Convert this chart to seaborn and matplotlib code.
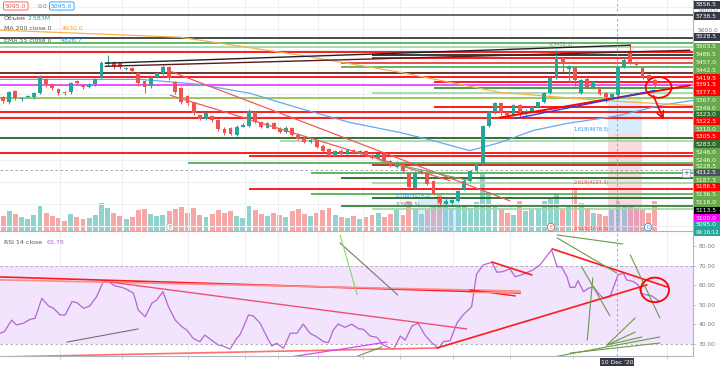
"""
plot.py - BTC-style price panel with volume + RSI sub-panel (TradingView look).
"""
import matplotlib
matplotlib.use("Agg")

import matplotlib.pyplot as plt
from matplotlib.patches import Ellipse, Rectangle
import seaborn as sns
import numpy as np
import pandas as pd

W, H = 720, 366

# ---- candles (price units) ----
opens = [4972, 4927, 5027, 4954, 4972, 4972, 5009, 5137, 5091, 5046,
         5018, 5018, 5119, 5082, 5064, 5091, 5155, 5274, 5293, 5284,
         5229, 5238, 5192, 5119, 5073, 5155, 5192, 5247, 5110, 5055,
         4982, 4927, 4808, 4780, 4799, 4771, 4689, 4698, 4634, 4707,
         4716, 4835, 4744, 4698, 4735, 4689, 4661, 4698, 4634, 4606,
         4570, 4588, 4533, 4506, 4442, 4487, 4460, 4497, 4469, 4487,
         4451, 4414, 4460, 4396, 4341, 4378, 4286, 4149, 4286, 4277,
         4213, 4057, 4003, 4010, 4025, 4140, 4213, 4300, 4369, 4716,
         4835, 4918, 4840, 4810, 4899, 4826, 4853, 4881, 4927, 5009,
         5146, 5330, 5230, 5250, 5009, 5137, 5064, 5055, 5009, 4975,
         4991, 5247, 5384, 5293, 5238, 5174, 5128]
closes = [4936, 5018, 4963, 4963, 4982, 5009, 5155, 5091, 5055, 5009,
          5009, 5100, 5100, 5064, 5091, 5137, 5284, 5293, 5247, 5247,
          5238, 5210, 5100, 5064, 5155, 5192, 5247, 5146, 5018, 4927,
          4918, 4826, 4780, 4826, 4762, 4689, 4652, 4643, 4707, 4725,
          4853, 4744, 4707, 4735, 4689, 4661, 4698, 4634, 4597, 4570,
          4588, 4524, 4487, 4442, 4487, 4460, 4497, 4469, 4487, 4451,
          4423, 4460, 4396, 4350, 4378, 4304, 4158, 4286, 4304, 4185,
          4094, 4012, 4030, 4035, 4121, 4213, 4304, 4369, 4716, 4835,
          4918, 4826, 4808, 4899, 4835, 4853, 4881, 4927, 5009, 5146,
          5338, 5290, 5255, 5130, 5128, 5064, 5110, 5000, 4972, 5000,
          5247, 5311, 5293, 5265, 5155, 5128, 5082]
highs = [4985, 5030, 5040, 4975, 4995, 5020, 5175, 5150, 5100, 5060,
         5030, 5115, 5135, 5095, 5100, 5145, 5300, 5355, 5305, 5295,
         5250, 5250, 5200, 5130, 5165, 5200, 5265, 5255, 5120, 5065,
         4990, 4935, 4815, 4840, 4810, 4780, 4700, 4705, 4720, 4735,
         4865, 4845, 4755, 4745, 4745, 4700, 4710, 4705, 4645, 4615,
         4600, 4595, 4545, 4515, 4495, 4500, 4505, 4505, 4495, 4495,
         4460, 4470, 4470, 4405, 4390, 4385, 4295, 4300, 4320, 4285,
         4220, 4065, 4045, 4050, 4130, 4225, 4315, 4380, 4725, 4850,
         4930, 4925, 4850, 4910, 4910, 4865, 4890, 4935, 5020, 5155,
         5400, 5345, 5270, 5260, 5140, 5160, 5120, 5065, 5020, 5010,
         5260, 5330, 5458, 5300, 5245, 5185, 5140]
lows = [4925, 4915, 4950, 4940, 4965, 4960, 5000, 5070, 5040, 4990,
        4995, 5005, 5090, 5050, 5055, 5080, 5145, 5260, 5230, 5235,
        5220, 5195, 5080, 5010, 5060, 5145, 5180, 5135, 5000, 4910,
        4905, 4810, 4770, 4770, 4750, 4670, 4630, 4630, 4620, 4700,
        4705, 4735, 4695, 4690, 4680, 4650, 4650, 4620, 4585, 4560,
        4560, 4510, 4475, 4430, 4430, 4450, 4450, 4460, 4460, 4440,
        4410, 4405, 4385, 4340, 4330, 4290, 4145, 4140, 4275, 4170,
        4080, 3995, 3995, 3998, 4015, 4130, 4205, 4290, 4360, 4705,
        4825, 4815, 4795, 4800, 4790, 4815, 4845, 4875, 4920, 5000,
        5140, 5200, 5110, 5080, 5000, 5050, 5050, 4990, 4930, 4965,
        4980, 5240, 5280, 5255, 5140, 5100, 5070]
volumes = [1.3, 1.7, 1.5, 1.2, 1.0, 1.4, 2.2, 1.6, 1.3, 1.1, 0.9, 1.5, 1.2, 1.0, 1.1, 1.4, 2.4,
           2.0, 1.6, 1.3, 1.0, 1.2, 1.8, 1.9, 1.5, 1.3, 1.4, 1.7, 1.9, 2.1, 1.6, 2.0, 1.4,
           1.2, 1.5, 1.8, 1.6, 1.7, 1.3, 1.1, 2.2,
           1.8, 1.5, 1.3, 1.6, 1.4, 1.2, 1.7, 1.9, 1.5, 1.3, 1.6, 1.8, 2.0, 1.4, 1.2, 1.1,
           1.3, 1.0, 1.2, 1.4, 1.6, 1.2, 1.5, 1.8, 1.4,
           2.6, 2.0, 1.5, 1.8, 2.2, 3.2, 2.4, 1.9, 2.1, 2.3, 2.0, 2.5,
           4.9, 3.4, 2.2,
           1.9, 1.6, 1.4, 2.6, 1.7, 1.8, 2.0, 2.6, 2.8, 3.3, 1.8, 2.1, 3.7, 2.4, 2.0, 1.6,
           1.5, 1.3, 1.8,
           2.6, 2.3, 2.2, 2.0, 1.8, 1.6, 2.58]

# ---- moving averages (sparse points along the drawn curves) ----
ema_x = [-0.5, 22.3, 32.0, 40.2, 48.3, 56.4, 64.6, 69.9, 75.9, 80.8, 86.2, 91.7, 97.1, 100.3, 106.8, 112.2]
ema_val = [5137, 5137, 5091, 5009, 4872, 4744, 4652, 4579, 4487, 4561, 4671, 4735, 4780, 4808, 4899, 4945]
ma_x = [-0.5, 28.8, 48.3, 64.6, 80.8, 97.1, 112.2]
ma_val = [5585, 5521, 5357, 5201, 5018, 4945, 4899]

# ---- RSI 14 ----
rsi_x = [-0.5, 0.2, 1.4, 2.2, 3.3, 4.4, 5.2, 6.3, 7.4, 8.2, 9.3, 10.1, 11.2, 12.0, 13.1,
         14.1, 15.2, 16.3, 17.1, 18.2, 19.3, 20.1, 21.2, 22.0, 23.1, 24.2, 25.0, 26.0,
         26.9, 28.0, 29.1, 29.9, 30.9, 32.0, 32.8, 33.9, 35.0, 35.8, 36.9, 38.0,
         38.5, 39.1, 39.9, 40.7, 41.8, 42.9, 43.7, 44.5, 45.6, 46.7, 47.8, 48.8, 49.9,
         51.0, 52.1, 52.9, 53.7, 54.5, 55.6, 56.7, 57.8, 58.6, 59.7, 60.8, 61.8, 63.5,
         64.6, 65.4, 66.5, 67.5, 68.6, 69.7, 70.8, 71.6, 72.7, 73.8, 74.8, 76.2,
         77.0, 78.1, 79.5, 80.3, 81.3, 82.4, 83.3, 84.6, 86.2, 87.3, 89.2, 90.1, 90.8,
         91.7, 92.2, 93.0, 93.5, 94.4, 95.2, 96.0, 96.8, 97.6, 98.7, 100.0, 100.9,
         101.4, 102.5, 103.3, 103.8, 104.7, 105.5, 106.8]
rsi_val = [35.5, 36.3, 42.2, 39.7, 40.6, 42.6, 43.1, 53.3, 49.4, 48.2, 44.8, 44.8, 51.6,
           51.1, 48.2, 49.4, 54.1, 61.8, 61.8, 59.6, 58.9, 57.9, 55.9, 47.3, 43.9, 50.8,
           52.4, 56.7, 49.0, 42.2, 38.8, 37.1, 32.9, 31.2, 34.6, 32.0, 29.5, 29.0, 27.4, 32.9,
           34.6, 38.8, 44.8, 44.3, 40.6, 33.7, 29.0, 30.4, 27.8, 35.5, 35.5, 40.2, 35.5,
           33.7, 31.2, 30.7, 37.1, 40.2, 38.5, 40.1, 37.8, 37.5, 34.1, 33.4, 29.5, 27.3,
           34.1, 32.0, 39.2, 40.6, 34.6, 30.7, 27.8, 31.2, 31.7, 40.6, 44.8, 49.0,
           65.7, 70.3, 71.7, 66.6, 66.9, 68.3, 64.3, 65.6, 67.8, 70.3, 78.0, 69.4, 69.4,
           64.3, 58.9, 58.9, 62.3, 56.7, 58.4, 59.2, 55.9, 53.3, 54.1, 65.2, 66.1,
           62.7, 61.8, 60.1, 55.9, 55.0, 54.5, 51.6]

# ---- horizontal levels drawn on the chart: price, start candle, colour ----
level_price = [5723, 5512, 5467, 5430, 5384, 5357, 5329, 5284, 5247, 5192, 5155, 5110,
               5082, 5055, 5009, 4963, 4881, 4835, 4789, 4606, 4579, 4469, 4442, 4378,
               4359, 4286, 4240, 4195, 4140, 4094, 4057, 3984, 3957]
level_start = [-0.5, -0.5, -0.5, -0.5, -0.5, 60, 60, 55, 55, -0.5, -0.5, 70,
               -0.5, 70, 60, -0.5, 70, -0.5, -0.5, -0.5, 45, -0.5, 40, 30,
               60, 50, 55, 60, 40, 50, 60, 55, 60]
level_color = ["#555555", "#333333", "#4caf50", "#a5d6a7", "#ff0000", "#222222", "#ff0000",
               "#e53935", "#4caf50", "#5d1a1a", "#ff0000", "#ff0000", "#e040fb", "#388e3c",
               "#a5d6a7", "#8bc34a", "#ff0000", "#ff0000", "#ff0000", "#1b5e20", "#a5d6a7",
               "#ff0000", "#ff0000", "#4caf50", "#b71c1c", "#4caf50", "#1b5e20", "#a5d6a7",
               "#ff0000", "#4caf50", "#1b5e20", "#2e7d32", "#a5d6a7"]

# trend lines on the price panel: x0, p0, x1, p1, colour, width
price_lines = [(16.6, 5284, 102.0, 5448, "#222222", 1.0),
               (16.6, 5256, 111.7, 5402, "#5d1a1a", 1.0),
               (26.8, 5219, 82.4, 4030, "#f05a5a", 0.9),
               (27.2, 4991, 72.7, 4213, "#f05a5a", 0.9),
               (80.8, 4789, 111.7, 5082, "#ff0000", 1.4),
               (83.3, 4780, 106.0, 5036, "#2b3de0", 1.0),
               (61.3, 4396, 75.9, 4213, "#8a9a5b", 0.8)]

# trend lines on the RSI panel
rsi_lines = [(-0.5, 64.2, 84.1, 56.0, "#ff1a1a", 1.2),
             (-0.5, 62.7, 84.1, 57.0, "#ff8a8a", 1.2),
             (17.4, 61.6, 75.4, 37.7, "#f0506e", 1.0),
             (75.9, 57.6, 83.3, 54.5, "#ff1a1a", 1.0),
             (75.9, 56.5, 84.1, 56.5, "#ff8a8a", 1.0),
             (-0.5, 23.4, 70.6, 28.0, "#ff7070", 1.2),
             (70.6, 28.0, 104.7, 60.1, "#ff1a1a", 1.2),
             (89.3, 78.5, 108.0, 59.1, "#ff1a1a", 1.2),
             (79.5, 71.8, 86.0, 65.2, "#ff1a1a", 1.2),
             (10.4, 31.0, 22.0, 37.7, "#707a6a", 0.8),
             (54.8, 81.5, 64.2, 55.0, "#707a6a", 0.8),
             (54.8, 85.6, 57.6, 55.0, "#7ee05a", 0.8),
             (43.4, 21.8, 62.4, 31.0, "#e040fb", 0.9),
             (55.9, 21.8, 61.6, 28.5, "#6a9a4a", 0.8),
             (90.1, 85.6, 100.8, 81.0, "#6a9a4a", 0.8),
             (90.1, 84.1, 99.8, 66.2, "#6a9a4a", 0.8),
             (94.1, 69.3, 98.7, 44.3, "#6a9a4a", 0.8),
             (102.0, 75.4, 106.8, 43.3, "#6a9a4a", 0.8),
             (95.9, 63.7, 95.0, 32.0, "#6a9a4a", 0.8),
             (98.2, 29.5, 102.8, 43.3, "#6a9a4a", 0.8),
             (98.2, 29.5, 102.8, 36.1, "#6a9a4a", 0.8),
             (98.2, 29.5, 103.9, 33.6, "#6a9a4a", 0.8),
             (92.2, 25.4, 106.8, 30.5, "#6a9a4a", 0.8),
             (86.8, 21.8, 106.8, 33.6, "#6a9a4a", 0.8)]

# fib zones: x0, x1, p0, p1, colour
fib_zones = [(98.3, 103.9, 4643, 4963, "#90caf9"),
             (98.3, 103.9, 4003, 4643, "#ef9a9a"),
             (98.3, 103.9, 3755, 4003, "#ce93d8"),
             (67.5, 74.3, 3755, 4057, "#90caf9")]
fib_labels = [(88.8, 5458, "0(5458.0)", "#787b86"),
              (92.8, 4678.5, "1.618(4678.5)", "#2196f3"),
              (92.8, 4197.5, "2.618(4197.5)", "#ef5350"),
              (63.8, 4074.5, "0.786(4074.5)", "#2196f3"),
              (63.8, 3994.5, "1(3994.5)", "#787b86"),
              (92.8, 3780, "3.618(3716.5)", "#ef5350")]

# right price-scale labels: text, box colour, pixel row
scale_labels = [("5856.5", "#363a45", 5), ("5800.0", None, 10), ("5738.5", "#363a45", 16),
                ("5600.0", None, 31), ("5528.5", "#363a45", 37), ("5503.5", "#67a84b", 47),
                ("5486.5", "#67a84b", 55), ("5457.0", "#67a84b", 63), ("5442.5", "#67a84b", 71),
                ("5419.5", "#ff0000", 78), ("5391.5", "#ff0000", 85), ("5377.5", "#ff0000", 92),
                ("5367.0", "#67a84b", 100), ("5349.0", "#67a84b", 108), ("5323.0", "#2e6b2e", 115),
                ("5322.5", "#ff0000", 122), ("5310.0", "#67a84b", 129), ("5305.5", "#ff0000", 136),
                ("5283.0", "#2e6b2e", 144), ("5246.0", "#67a84b", 152), ("5246.0", "#67a84b", 160),
                ("5228.5", "#67a84b", 167), ("4312.5", "#4c525e", 173), ("5187.5", "#67a84b", 180),
                ("5186.5", "#ff0000", 187), ("5136.5", "#67a84b", 195), ("5116.0", "#67a84b", 203),
                ("5113.5", "#000000", 211), ("5100.0", "#ff00ff", 218), ("5095.0", "#26a69a", 225),
                ("09:16:12", "#26a69a", 232)]

grid_x = [9.3, 19.3, 30.1, 39.3, 44.7, 51.2, 58.5, 64.6, 73.2, 82.4, 92.7, 108.0]
crosshair_x = 99.8
crosshair_price = 4312.5

TEAL, RED = "#26a69a", "#ef5350"
XLIM = (-0.5, 112.2)


def fx(px):
    return px / W


def fy(py):
    return 1 - py / H


sns.set_theme(style="white")
plt.rcParams["font.family"] = ["DejaVu Sans"]

fig = plt.figure(figsize=(W / 100, H / 100), dpi=100)
fig.patch.set_facecolor("white")

ax_p = fig.add_axes([0, fy(231), fx(693), 231 / H])
ax_v = ax_p.twinx()
ax_r = fig.add_axes([0, fy(356), fx(693), 124 / H])

# ---------- volume ----------
idx = np.arange(len(closes))
up = np.array(closes) >= np.array(opens)
vol_colors = [TEAL if u else RED for u in up]
ax_v.bar(idx, volumes, width=0.8, color=vol_colors, alpha=0.5, linewidth=0)
ax_v.set_ylim(0, 20)
ax_v.set_xlim(*XLIM)
ax_v.axis("off")
ax_v.set_zorder(0)
ax_p.set_zorder(1)
ax_p.patch.set_visible(False)

# ---------- price panel ----------
ax_p.set_xlim(*XLIM)
ax_p.set_ylim(3755, 5860)
for gx in grid_x:
    ax_p.axvline(gx, color="#eef0f4", lw=0.8, zorder=0)
for gp in range(3800, 5900, 200):
    ax_p.axhline(gp, color="#eef0f4", lw=0.8, zorder=0)

for x0, x1, p0, p1, c in fib_zones:
    ax_p.add_patch(Rectangle((x0, p0), x1 - x0, p1 - p0, color=c, alpha=0.35, lw=0, zorder=0.5))

for p, s, c in zip(level_price, level_start, level_color):
    ax_p.hlines(p, s, XLIM[1], colors=c, lw=1.25, zorder=1)

o, c_ = np.array(opens), np.array(closes)
body = c_ - o
body = np.where(np.abs(body) < 8, np.where(body >= 0, 8, -8), body)
cand_colors = [TEAL if u else RED for u in up]
ax_p.vlines(idx, lows, highs, colors=cand_colors, lw=0.8, zorder=2)
ax_p.bar(idx, body, bottom=o, width=0.62, color=cand_colors, linewidth=0, zorder=2.5)

sns.lineplot(x=ema_x, y=ema_val, ax=ax_p, color="#64a8f0", lw=0.9, sort=False, estimator=None, zorder=1.5)
sns.lineplot(x=ma_x, y=ma_val, ax=ax_p, color="#f7b24a", lw=0.9, sort=False, estimator=None, zorder=1.5)

for x0, p0, x1, p1, c, lw in price_lines:
    ax_p.plot([x0, x1], [p0, p1], color=c, lw=lw, zorder=3)

for x, p, t, c in fib_labels:
    ax_p.text(x, p, t, fontsize=3.6, color=c, ha="left", va="center", zorder=4)

ax_p.add_patch(Ellipse((106.6, 5064), 4.2, 190, fill=False, ec="red", lw=1.3, zorder=5))
ax_p.annotate("", xy=(107.6, 4744), xytext=(105.6, 5010),
              arrowprops=dict(arrowstyle="->", color="red", lw=1.2), zorder=5)

ax_p.axvline(crosshair_x, color="#9598a1", lw=0.6, ls=(0, (3, 3)), zorder=4)
ax_p.axhline(crosshair_price, color="#9598a1", lw=0.6, ls=(0, (3, 3)), zorder=4)

for x, t, ec in [(27.2, "E", "#b2b5be"), (89.1, "E", "#ef5350"), (104.9, "D", "#2196f3")]:
    ax_p.text(x, 3790, t, fontsize=3.5, color="#787b86", ha="center", va="center", zorder=5,
              bbox=dict(boxstyle="circle,pad=0.25", fc="white", ec=ec, lw=0.6))

ax_p.set(xlabel=None, ylabel=None, xticks=[], yticks=[])
for side in ["top", "left"]:
    ax_p.spines[side].set_visible(False)
ax_p.spines["right"].set_color("#b2b5be")
ax_p.spines["bottom"].set_color("#b2b5be")
ax_p.spines["right"].set_linewidth(0.8)
ax_p.spines["bottom"].set_linewidth(0.8)

# ---------- RSI panel ----------
ax_r.set_xlim(*XLIM)
ax_r.set_ylim(23.9, 87.1)
for gx in grid_x:
    ax_r.axvline(gx, color="#eef0f4", lw=0.8, zorder=0)
ax_r.axhspan(30, 70, color="#f1e4fc", lw=0, zorder=0.2)
ax_r.axhline(70, color="#a7a3b0", lw=0.6, ls=(0, (3, 3)), zorder=0.5)
ax_r.axhline(30, color="#a7a3b0", lw=0.6, ls=(0, (3, 3)), zorder=0.5)

sns.lineplot(x=rsi_x, y=rsi_val, ax=ax_r, color="#b267d0", lw=0.9, sort=False, estimator=None, zorder=2)

for x0, v0, x1, v1, c, lw in rsi_lines:
    ax_r.plot([x0, x1], [v0, v1], color=c, lw=lw, zorder=3)
ax_r.add_patch(Ellipse((106.0, 57.6), 4.6, 12.5, fill=False, ec="red", lw=1.3, zorder=5))
ax_r.axvline(crosshair_x, color="#9598a1", lw=0.6, ls=(0, (3, 3)), zorder=4)

ax_r.yaxis.tick_right()
ax_r.set_yticks([30, 40, 50, 60, 70, 80])
ax_r.set_yticklabels([f"{v:.2f}" for v in [30, 40, 50, 60, 70, 80]])
ax_r.tick_params(axis="y", labelsize=4.3, labelcolor="#787b86", length=2, width=0.5,
                 color="#b2b5be", pad=2, right=True)
ax_r.set_xticks(grid_x)
ax_r.set_xticklabels([])
ax_r.tick_params(axis="x", length=2, width=0.5, color="#b2b5be", bottom=True)
ax_r.set(xlabel=None, ylabel=None)
for side in ["top", "left"]:
    ax_r.spines[side].set_visible(False)
for side in ["right", "bottom"]:
    ax_r.spines[side].set_color("#b2b5be")
    ax_r.spines[side].set_linewidth(0.8)

# ---------- right price scale labels ----------
for txt, bg, py in scale_labels:
    fs = 3.8 if len(txt) > 6 else 4.3
    if bg is None:
        fig.text(fx(698), fy(py), txt, fontsize=fs, color="#787b86", va="center", ha="left")
        continue
    fig.patches.append(Rectangle((fx(694), fy(py + 3.6)), fx(26), 7.2 / H,
                                 transform=fig.transFigure, color=bg, lw=0, zorder=3))
    fig.text(fx(696), fy(py), txt, fontsize=fs, color="white", va="center", ha="left", zorder=4)

fig.text(fx(686), fy(173), "+", fontsize=5, color="#4c525e", va="center", ha="center",
         bbox=dict(boxstyle="square,pad=0.1", fc="white", ec="#9598a1", lw=0.5))

# ---------- legend texts ----------
fig.text(fx(5), fy(6), "5095.0", fontsize=4.5, color="#ef5350", va="center",
         bbox=dict(boxstyle="round,pad=0.25", fc="white", ec="#ef5350", lw=0.6))
fig.text(fx(38), fy(6), "0.0", fontsize=4.5, color="#787b86", va="center")
fig.text(fx(51), fy(6), "5095.0", fontsize=4.5, color="#2196f3", va="center",
         bbox=dict(boxstyle="round,pad=0.25", fc="white", ec="#2196f3", lw=0.6))
fig.text(fx(4), fy(19), "Объем", fontsize=4.5, color="#555555", va="center")
fig.text(fx(28), fy(19), "2.583M", fontsize=4.5, color="#26a69a", va="center")
fig.text(fx(4), fy(29), "MA 200 close 0", fontsize=4.5, color="#555555", va="center")
fig.text(fx(62), fy(29), "4930.0", fontsize=4.5, color="#f5a623", va="center")
fig.text(fx(4), fy(40), "EMA 55 close 0", fontsize=4.5, color="#555555", va="center")
fig.text(fx(61), fy(40), "4826.7", fontsize=4.5, color="#2196f3", va="center")
fig.text(fx(4), fy(243), "RSI 14 close", fontsize=4.5, color="#555555", va="center")
fig.text(fx(47), fy(243), "63.78", fontsize=4.5, color="#b267d0", va="center")

fig.text(fx(617), fy(362), "10 Dec '20", fontsize=4.3, color="white", va="center", ha="center",
         bbox=dict(boxstyle="square,pad=0.2", fc="#363a45", ec="none"))

fig.savefig("out.png", dpi=100, facecolor="white")
plt.close(fig)
